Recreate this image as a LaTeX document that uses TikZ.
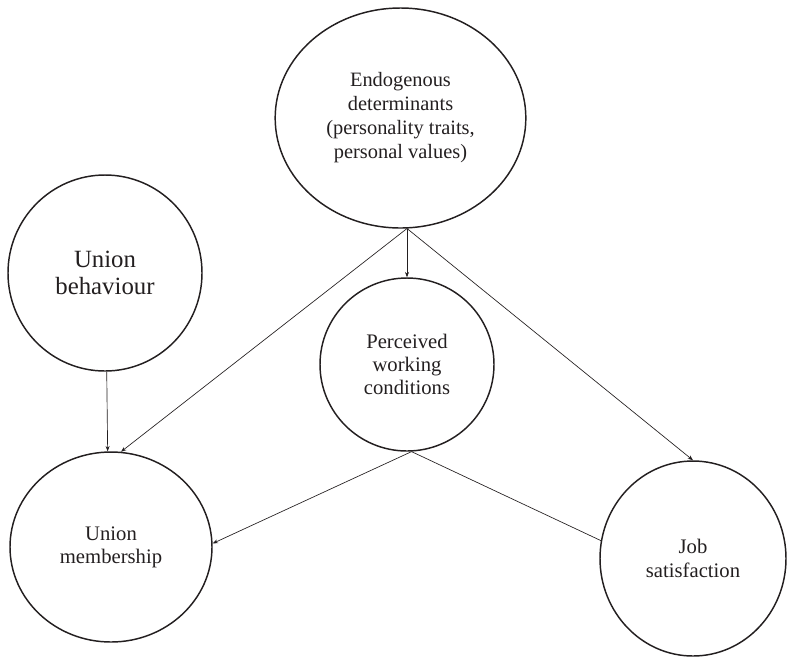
\documentclass[tikz,border=0pt]{standalone}
\usepackage{fontspec}
\setmainfont{Liberation Serif}
\usetikzlibrary{shapes.geometric,arrows.meta}
\definecolor{ink}{HTML}{231F20}
\begin{document}
\begin{tikzpicture}[x=0.75pt,y=-0.75pt,
  circ/.style={draw=ink, ellipse, line width=1.1pt, inner sep=0pt, align=center, text=ink},
  conn/.style={draw=ink, line width=0.5pt},
  arr/.style={conn, -{Stealth[length=4pt,width=3pt]}}]
\useasboundingbox (0,0) rectangle (788,658);
\node[circ, minimum width=188pt, minimum height=165pt, font=\fontsize{15.3}{18}\selectfont] (E) at (400.5,118)
  {Endogenous\\determinants\\(personality traits,\\personal values)};
\node[circ, minimum width=145.5pt, minimum height=147pt, font=\fontsize{18.6}{20.5}\selectfont] (B) at (105,273)
  {Union\\behaviour};
\node[circ, minimum width=130.5pt, minimum height=129.75pt, font=\fontsize{15.5}{17.3}\selectfont] (P) at (407,364.5)
  {Perceived\\working\\conditions};
\node[circ, minimum width=151.5pt, minimum height=142.5pt, font=\fontsize{15.5}{17.3}\selectfont] (M) at (111,547)
  {Union\\membership};
\node[circ, minimum width=139.5pt, minimum height=146.25pt, font=\fontsize{15.5}{18}\selectfont] (J) at (693,558.5)
  {Job\\satisfaction};
\coordinate (src) at (407,228.5);
\coordinate (psrc) at (P.-87);
\draw[arr] (src) -- (P);
\draw[arr] (src) -- (M.84);
\draw[arr] (src) -- (J.north);
\draw[arr] (B.-89) -- (M.92);
\draw[arr] (psrc) -- (M.2);
\draw[conn] (psrc) -- (J.169);
\end{tikzpicture}
\end{document}
